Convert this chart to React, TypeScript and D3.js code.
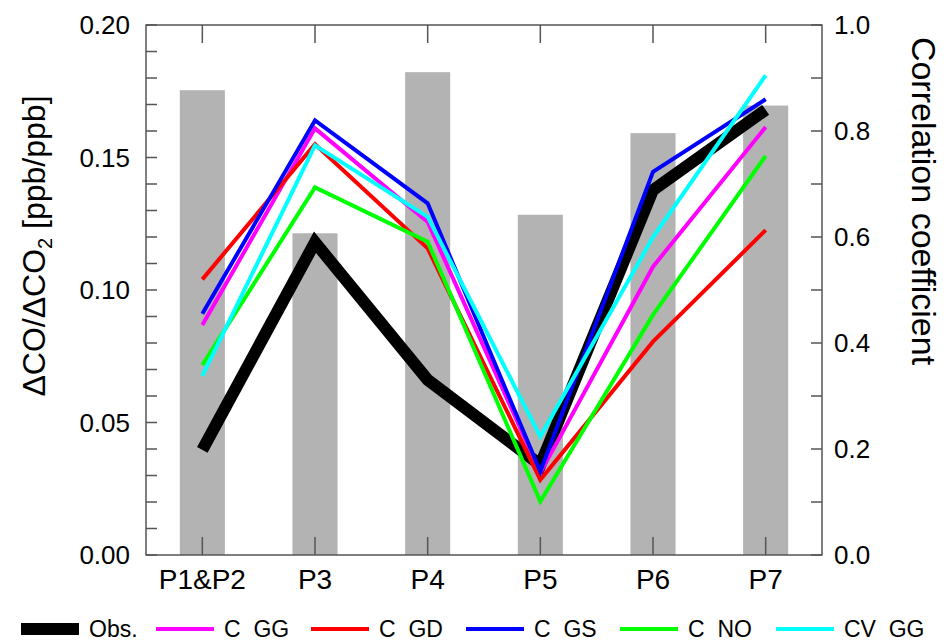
import React from "react";
import * as d3 from "d3";

const categories = ["P1&P2", "P3", "P4", "P5", "P6", "P7"];
const correlation = [0.877, 0.607, 0.911, 0.642, 0.796, 0.848];
const obs = [0.0397, 0.118, 0.0661, 0.034, 0.1377, 0.168];
const cGG = [0.0868, 0.161, 0.1257, 0.031, 0.1088, 0.1615];
const cGD = [0.104, 0.155, 0.1157, 0.0284, 0.0805, 0.1226];
const cGS = [0.091, 0.164, 0.1327, 0.0315, 0.1446, 0.172];
const cNO = [0.0717, 0.1387, 0.1182, 0.0202, 0.0906, 0.1506];
const cvGG = [0.0676, 0.1546, 0.1276, 0.0447, 0.12, 0.181];
const leftTicks = [0, 0.05, 0.1, 0.15, 0.2];
const rightTicks = [0, 0.2, 0.4, 0.6, 0.8, 1.0];

const series = [
  { name: "Obs.", values: obs, color: "#000000", width: 12 },
  { name: "C  GG", values: cGG, color: "#ff00ff", width: 4 },
  { name: "C  GD", values: cGD, color: "#ff0000", width: 4 },
  { name: "C  GS", values: cGS, color: "#0000ff", width: 4 },
  { name: "C  NO", values: cNO, color: "#00ff00", width: 4 },
  { name: "CV  GG", values: cvGG, color: "#00ffff", width: 4 },
];

const W = 946;
const H = 642;
const L = 146, R = 822, T = 25, B = 555;
const font = "Liberation Sans, Arial, Helvetica, sans-serif";

export default function App() {
  const x = d3.scaleLinear().domain([-0.5, 5.5]).range([L, R]);
  const y = d3.scaleLinear().domain([0, 0.2]).range([B, T]);
  const y2 = d3.scaleLinear().domain([0, 1]).range([B, T]);
  const line = d3
    .line<number>()
    .x((_, i) => x(i))
    .y((d) => y(d));
  const barW = x(0.4) - x(0);
  const minorLeft = d3.range(0, 0.2001, 0.01);
  const minorRight = d3.range(0, 1.0001, 0.1);
  const axisColor = "#555";
  const legendX = [21, 156, 311, 466, 620, 776];
  const legendY = 629;

  return (
    <svg width={W} height={H} style={{ position: "absolute", left: 0, top: 0, background: "#fff" }}>
      <rect x={0} y={0} width={W} height={H} fill="#fff" />
      {correlation.map((c, i) => (
        <rect key={i} x={x(i) - barW / 2} y={y2(c)} width={barW} height={B - y2(c)} fill="#b3b3b3" />
      ))}
      {series.map((s) => (
        <path
          key={s.name}
          d={line(s.values) || ""}
          fill="none"
          stroke={s.color}
          strokeWidth={s.width}
          strokeLinejoin="miter"
          strokeLinecap="butt"
        />
      ))}
      {/* frame */}
      <rect x={L} y={T} width={R - L} height={B - T} fill="none" stroke={axisColor} strokeWidth={1.5} />
      {minorLeft.map((v, i) => (
        <line key={"lt" + i} x1={L} x2={L + 11} y1={y(v)} y2={y(v)} stroke={axisColor} strokeWidth={1.5} />
      ))}
      {minorRight.map((v, i) => (
        <line key={"rt" + i} x1={R} x2={R - 11} y1={y2(v)} y2={y2(v)} stroke={axisColor} strokeWidth={1.5} />
      ))}
      {categories.map((c, i) => (
        <g key={"ct" + i}>
          <line x1={x(i)} x2={x(i)} y1={B} y2={B - 18} stroke={axisColor} strokeWidth={1.5} />
          <line x1={x(i)} x2={x(i)} y1={T} y2={T + 18} stroke={axisColor} strokeWidth={1.5} />
          <text x={x(i)} y={B + 24} textAnchor="middle" dominantBaseline="central" fontFamily={font} fontSize={28} fill="#000">
            {c}
          </text>
        </g>
      ))}
      {leftTicks.map((v) => (
        <text key={"ll" + v} x={130} y={y(v)} textAnchor="end" dominantBaseline="central" fontFamily={font} fontSize={26} fill="#000">
          {v.toFixed(2)}
        </text>
      ))}
      {rightTicks.map((v) => (
        <text key={"rl" + v} x={834} y={y2(v)} textAnchor="start" dominantBaseline="central" fontFamily={font} fontSize={26} fill="#000">
          {v.toFixed(1)}
        </text>
      ))}
      <text
        transform={`translate(45,246) rotate(-90)`}
        textAnchor="middle"
        fontFamily={font}
        fontSize={32}
        fill="#000"
      >
        ΔCO/ΔCO<tspan fontSize={20} dy={7}>2</tspan>
        <tspan dy={-7}> [ppb/ppb]</tspan>
      </text>
      <text
        transform={`translate(912,201) rotate(90)`}
        textAnchor="middle"
        fontFamily={font}
        fontSize={34}
        fill="#000"
      >
        Correlation coefficient
      </text>
      {series.map((s, i) => (
        <g key={"lg" + i}>
          {i === 0 ? (
            <rect x={legendX[i]} y={legendY - 6} width={58} height={12} fill="#000" />
          ) : (
            <line x1={legendX[i]} x2={legendX[i] + 58} y1={legendY} y2={legendY} stroke={s.color} strokeWidth={4} />
          )}
          <text x={legendX[i] + 68} y={legendY} dominantBaseline="central" fontFamily={font} fontSize={23} fill="#000" style={{ whiteSpace: "pre" }}>
            {s.name}
          </text>
        </g>
      ))}
    </svg>
  );
}
